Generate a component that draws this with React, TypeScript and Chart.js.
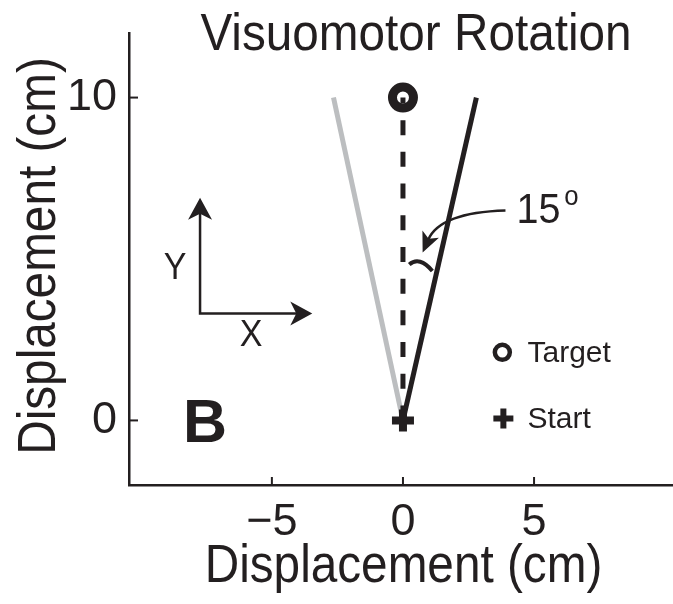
import React, { useEffect, useRef } from "react";
import { Chart, registerables } from "chart.js";

Chart.register(...registerables);

const FONT = "'Liberation Sans', Arial, Helvetica, sans-serif";
const INK = "#231f20";
const GREY = "#bcbec0";

// Axis ranges and ticks (cm)
const X_RANGE = [-10.45, 10.3];
const Y_RANGE = [-2, 12];
const X_TICKS = [-5, 0, 5];
const Y_TICKS = [0, 10];

// Reach geometry (cm)
const START = [0, 0];
const TARGET = [0, 10];
const ROTATED_END = [2.8, 10]; // cursor path under the rotation
const MIRROR_END = [-2.65, 10]; // compensating hand path
const ROTATION_DEG = 15;

// Text
const TITLE = "Visuomotor Rotation";
const AXIS_TITLE = "Displacement (cm)";

// Annotation anchors (cm)
const ANGLE_MARK = [[0.24, 4.83], [0.63, 5.1], [1.12, 4.63]]; // from, control, to
const CURVE_FROM = [3.91, 6.5];
const CURVE_CTRL = [1.42, 6.44];
const CURVE_TIP = [0.75, 5.2];
const ANGLE_LABEL = [4.33, 6.47];
const INSET_ORIGIN = [-7.74, 3.31];
const INSET_Y_TIP = 6.9;
const INSET_X_TIP = -3.46;
const INSET_Y_LABEL = [-8.69, 4.71];
const INSET_X_LABEL = [-5.79, 2.63];
const PANEL_LABEL = [-7.55, -0.15];
const LEGEND_TARGET = [3.79, 2.11];
const LEGEND_START = [3.83, 0.06];
const LEGEND_TEXT_X = 4.75;

const pt = ([x, y]: number[]) => ({ x, y });

// narrow-set text, like a condensed Helvetica
function squeezedText(ctx: any, text: string, x: number, y: number, size: number, squeeze: number, rotate = 0) {
  ctx.save();
  ctx.translate(x, y);
  if (rotate) ctx.rotate(rotate);
  ctx.scale(squeeze, 1);
  ctx.font = `${size}px ${FONT}`;
  ctx.textAlign = "center";
  ctx.textBaseline = "middle";
  ctx.fillText(text, 0, 0);
  ctx.restore();
}

const figureNotes = {
  id: "figureNotes",
  afterDraw(chart: any) {
    const { ctx, chartArea } = chart;
    const xs = chart.scales.x;
    const ys = chart.scales.y;
    const px = (v: number) => xs.getPixelForValue(v);
    const py = (v: number) => ys.getPixelForValue(v);

    ctx.save();
    ctx.strokeStyle = INK;
    ctx.fillStyle = INK;
    ctx.lineCap = "butt";

    // inward tick marks
    ctx.lineWidth = 2;
    X_TICKS.forEach((v) => {
      ctx.beginPath();
      ctx.moveTo(px(v), chartArea.bottom);
      ctx.lineTo(px(v), chartArea.bottom - 8);
      ctx.stroke();
    });
    Y_TICKS.forEach((v) => {
      ctx.beginPath();
      ctx.moveTo(chartArea.left, py(v));
      ctx.lineTo(chartArea.left + 9, py(v));
      ctx.stroke();
    });

    // titles
    squeezedText(ctx, TITLE, 416, 36, 52, 0.917);
    squeezedText(ctx, AXIS_TITLE, 403.5, 567, 53, 0.9);
    squeezedText(ctx, AXIS_TITLE, 40, 256, 53, 0.9, -Math.PI / 2);

    // angle mark between the target direction and the rotated path
    const [a0, a1, a2] = ANGLE_MARK;
    ctx.lineWidth = 4;
    ctx.beginPath();
    ctx.moveTo(px(a0[0]), py(a0[1]));
    ctx.quadraticCurveTo(px(a1[0]), py(a1[1]), px(a2[0]), py(a2[1]));
    ctx.stroke();

    // curved pointer from the angle label
    const fx = px(CURVE_FROM[0]), fy = py(CURVE_FROM[1]);
    const cx = px(CURVE_CTRL[0]), cy = py(CURVE_CTRL[1]);
    const tx = px(CURVE_TIP[0]), ty = py(CURVE_TIP[1]);
    let dx = tx - cx, dy = ty - cy;
    const len = Math.hypot(dx, dy);
    dx /= len; dy /= len;
    const head = 20, half = 9;
    const bx = tx - dx * head, by = ty - dy * head;
    ctx.lineWidth = 2.5;
    ctx.beginPath();
    ctx.moveTo(fx, fy);
    ctx.quadraticCurveTo(cx, cy, bx + dx * 6, by + dy * 6);
    ctx.stroke();
    ctx.beginPath();
    ctx.moveTo(tx, ty);
    ctx.lineTo(bx - dy * half, by + dx * half);
    ctx.lineTo(bx + dx * 5, by + dy * 5);
    ctx.lineTo(bx + dy * half, by - dx * half);
    ctx.closePath();
    ctx.fill();

    // angle label
    ctx.textAlign = "left";
    ctx.textBaseline = "middle";
    ctx.font = `43px ${FONT}`;
    const lx = px(ANGLE_LABEL[0]), ly = py(ANGLE_LABEL[1]);
    ctx.save();
    ctx.translate(lx, ly);
    ctx.scale(0.92, 1);
    ctx.fillText(String(ROTATION_DEG), 0, 0);
    const w15 = ctx.measureText(String(ROTATION_DEG)).width;
    ctx.font = `28px ${FONT}`;
    ctx.fillText("o", w15 + 4, -14);
    ctx.restore();

    // X/Y orientation inset
    const ox = px(INSET_ORIGIN[0]), oy = py(INSET_ORIGIN[1]);
    const yTip = py(INSET_Y_TIP), xTip = px(INSET_X_TIP);
    ctx.lineWidth = 2.5;
    ctx.beginPath();
    ctx.moveTo(ox, yTip + 14);
    ctx.lineTo(ox, oy);
    ctx.lineTo(xTip - 14, oy);
    ctx.stroke();
    const arrowHead = (x: number, y: number, ux: number, uy: number) => {
      const L = 22, H = 12, N = 6;
      const bx2 = x - ux * L, by2 = y - uy * L;
      ctx.beginPath();
      ctx.moveTo(x, y);
      ctx.lineTo(bx2 - uy * H, by2 + ux * H);
      ctx.lineTo(bx2 + ux * N, by2 + uy * N);
      ctx.lineTo(bx2 + uy * H, by2 - ux * H);
      ctx.closePath();
      ctx.fill();
    };
    arrowHead(ox, yTip, 0, -1);
    arrowHead(xTip, oy, 1, 0);
    squeezedText(ctx, "Y", px(INSET_Y_LABEL[0]), py(INSET_Y_LABEL[1]), 37, 0.92);
    squeezedText(ctx, "X", px(INSET_X_LABEL[0]), py(INSET_X_LABEL[1]), 37, 0.92);

    // panel letter
    ctx.textAlign = "center";
    ctx.textBaseline = "middle";
    ctx.font = `bold 61px ${FONT}`;
    ctx.fillText("B", px(PANEL_LABEL[0]), py(PANEL_LABEL[1]));

    // legend
    const tgx = px(LEGEND_TARGET[0]), tgy = py(LEGEND_TARGET[1]);
    ctx.lineWidth = 4.5;
    ctx.beginPath();
    ctx.arc(tgx, tgy, 7.5, 0, Math.PI * 2);
    ctx.stroke();
    const stx = px(LEGEND_START[0]), sty = py(LEGEND_START[1]);
    ctx.lineWidth = 6;
    ctx.beginPath();
    ctx.moveTo(stx - 10, sty);
    ctx.lineTo(stx + 10, sty);
    ctx.moveTo(stx, sty - 10);
    ctx.lineTo(stx, sty + 10);
    ctx.stroke();
    ctx.textAlign = "left";
    ctx.font = `30px ${FONT}`;
    ctx.fillText("Target", px(LEGEND_TEXT_X), tgy + 1);
    ctx.fillText("Start", px(LEGEND_TEXT_X), sty + 1);

    ctx.restore();
  },
};

export default function App() {
  const canvasRef = useRef<HTMLCanvasElement | null>(null);

  useEffect(() => {
    const canvas = canvasRef.current;
    if (!canvas) return;
    const chart = new Chart(canvas, {
      type: "scatter",
      data: {
        datasets: [
          {
            label: "Start",
            data: [pt(START)],
            pointStyle: "cross",
            pointRadius: 11,
            pointBorderWidth: 8,
            pointBorderColor: INK,
            borderColor: INK,
            showLine: false,
            order: 0,
          },
          {
            label: "Target direction",
            data: [pt(START), pt(TARGET)],
            showLine: true,
            borderColor: INK,
            borderWidth: 5,
            borderDash: [15, 16.7],
            pointRadius: 0,
            order: 1,
          },
          {
            label: "Target",
            data: [pt(TARGET)],
            pointStyle: "circle",
            pointRadius: 10.5,
            pointBorderWidth: 9,
            pointBorderColor: INK,
            pointBackgroundColor: "rgba(0,0,0,0)",
            showLine: false,
            order: 2,
          },
          {
            label: "Rotated",
            data: [pt(START), pt(ROTATED_END)],
            showLine: true,
            borderColor: INK,
            borderWidth: 5,
            pointRadius: 0,
            order: 3,
          },
          {
            label: "Hand",
            data: [pt(START), pt(MIRROR_END)],
            showLine: true,
            borderColor: GREY,
            borderWidth: 5,
            pointRadius: 0,
            order: 4,
          },
        ],
      },
      options: {
        animation: false,
        responsive: false,
        events: [],
        layout: { autoPadding: false, padding: { top: 33, right: 0, bottom: 0, left: 0 } },
        plugins: {
          legend: { display: false },
          tooltip: { enabled: false },
          title: { display: false },
        },
        scales: {
          x: {
            type: "linear",
            position: "bottom",
            min: X_RANGE[0],
            max: X_RANGE[1],
            afterBuildTicks: (s: any) => {
              s.ticks = X_TICKS.map((value) => ({ value }));
            },
            afterFit: (s: any) => {
              s.height = 119;
              s.paddingLeft = 0;
              s.paddingRight = 0;
            },
            grid: { display: false, drawTicks: false },
            border: { display: true, color: INK, width: 2.5 },
            ticks: {
              padding: 11,
              autoSkip: false,
              maxRotation: 0,
              color: INK,
              font: { family: FONT, size: 45 },
              callback: (v: any) => (Number(v) < 0 ? "\u2212" + Math.abs(Number(v)) : String(v)),
            },
            title: { display: false },
          },
          y: {
            type: "linear",
            position: "left",
            min: Y_RANGE[0],
            max: Y_RANGE[1],
            afterBuildTicks: (s: any) => {
              s.ticks = Y_TICKS.map((value) => ({ value }));
            },
            afterFit: (s: any) => {
              s.width = 129;
              s.paddingTop = 0;
              s.paddingBottom = 0;
            },
            grid: { display: false, drawTicks: false },
            border: { display: true, color: INK, width: 2.5 },
            ticks: {
              padding: 12,
              autoSkip: false,
              color: INK,
              font: { family: FONT, size: 45 },
              callback: (v: any) => String(v),
            },
            title: { display: false },
          },
        },
      },
      plugins: [figureNotes],
    } as any);
    return () => chart.destroy();
  }, []);

  return (
    <div style={{ position: "absolute", left: 0, top: 0, width: 673, height: 604, background: "#fff" }}>
      <canvas ref={canvasRef} width={673} height={604} style={{ display: "block" }} />
    </div>
  );
}
